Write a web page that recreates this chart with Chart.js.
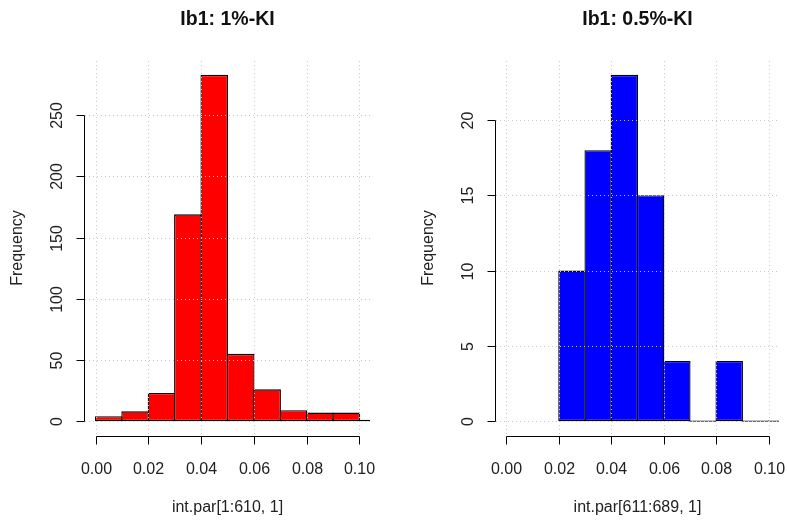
<!DOCTYPE html>
<html>
<head>
<meta charset="utf-8">
<script src="https://cdn.jsdelivr.net/npm/chart.js@4.4.0/dist/chart.umd.min.js"></script>
<style>
  html, body { margin: 0; padding: 0; background: #fff; }
  #wrap { position: relative; width: 787px; height: 522px; overflow: hidden; }
  .panel { position: absolute; top: 0; }
</style>
</head>
<body>
<div id="wrap">
  <div class="panel" style="left:0"><canvas id="left" width="400" height="522"></canvas></div>
  <div class="panel" style="left:400px"><canvas id="right" width="387" height="522"></canvas></div>
</div>
<script>
// histogram bin midpoints (bin width 0.01) and counts
const leftMids = [0.005, 0.015, 0.025, 0.035, 0.045, 0.055, 0.065, 0.075, 0.085, 0.095, 0.105];
const leftCounts = [4, 8, 23, 169, 283, 55, 26, 9, 7, 7, 1];
const rightMids = [0.025, 0.035, 0.045, 0.055, 0.065, 0.075, 0.085, 0.095, 0.105];
const rightCounts = [10, 18, 23, 15, 4, 0, 4, 0, 0];

const xTicks = [0, 0.02, 0.04, 0.06, 0.08, 0.10];
const leftYTicks = [0, 50, 100, 150, 200, 250];
const rightYTicks = [0, 5, 10, 15, 20];

const FONT = '"Liberation Sans", Arial, sans-serif';

// R-style axes, dotted grid (drawn over the bars like grid() after hist())
const rAxes = {
  id: 'rAxes',
  afterDatasetsDraw(chart, args, opts) {
    const { ctx, chartArea: a, scales: { x, y } } = chart;
    ctx.save();

    // grid
    ctx.strokeStyle = '#c8c8c8';
    ctx.lineWidth = 1;
    ctx.setLineDash([1, 3]);
    ctx.beginPath();
    x.ticks.forEach(t => {
      const px = Math.round(x.getPixelForValue(t.value)) + 0.5;
      ctx.moveTo(px, a.top);
      ctx.lineTo(px, a.bottom);
    });
    y.ticks.forEach(t => {
      const py = Math.round(y.getPixelForValue(t.value)) + 0.5;
      ctx.moveTo(a.left, py);
      ctx.lineTo(a.right, py);
    });
    ctx.stroke();
    ctx.setLineDash([]);

    // x axis
    const axY = Math.round(a.bottom) + 1.5;
    const xs = x.ticks.map(t => Math.round(x.getPixelForValue(t.value)) + 0.5);
    ctx.strokeStyle = '#000';
    ctx.beginPath();
    ctx.moveTo(xs[0], axY);
    ctx.lineTo(xs[xs.length - 1], axY);
    xs.forEach(px => { ctx.moveTo(px, axY); ctx.lineTo(px, axY + 8); });
    // y axis
    const axX = Math.round(a.left) - 0.5;
    const ys = y.ticks.map(t => Math.round(y.getPixelForValue(t.value)) + 0.5);
    ctx.moveTo(axX, ys[0]);
    ctx.lineTo(axX, ys[ys.length - 1]);
    ys.forEach(py => { ctx.moveTo(axX - 8, py); ctx.lineTo(axX, py); });
    ctx.stroke();

    // tick labels
    ctx.fillStyle = '#222';
    ctx.font = '16px ' + FONT;
    ctx.textAlign = 'center';
    ctx.textBaseline = 'middle';
    x.ticks.forEach((t, i) => ctx.fillText(t.value.toFixed(2), xs[i], a.bottom + 34.5));
    y.ticks.forEach((t, i) => {
      ctx.save();
      ctx.translate(axX - 27, ys[i]);
      ctx.rotate(-Math.PI / 2);
      ctx.fillText(String(t.value), 0, 0);
      ctx.restore();
    });

    // axis titles
    const cx = (a.left + a.right) / 2;
    const cy = (a.top + a.bottom) / 2;
    ctx.fillText(opts.xTitle, cx, a.bottom + 73);
    ctx.save();
    ctx.translate(a.left - 67, cy);
    ctx.rotate(-Math.PI / 2);
    ctx.fillText('Frequency', 0, 0);
    ctx.restore();

    // main title
    ctx.fillStyle = '#111';
    ctx.font = 'bold 19.5px ' + FONT;
    ctx.fillText(opts.title, cx, 20);
    ctx.restore();
  }
};

function makeHist(id, mids, counts, yTicks, color, title, xTitle, padding) {
  const yMax = Math.max(...counts);
  return new Chart(document.getElementById(id), {
    type: 'bar',
    data: {
      datasets: [{
        data: mids.map((m, i) => ({ x: m, y: counts[i] })),
        backgroundColor: color,
        borderColor: '#000',
        borderWidth: 1.3,
        borderSkipped: false,
        minBarLength: 1.3,
        categoryPercentage: 1,
        barPercentage: 1.049
      }]
    },
    options: {
      responsive: false,
      animation: false,
      layout: { padding: padding },
      plugins: {
        legend: { display: false },
        tooltip: { enabled: false },
        rAxes: { title: title, xTitle: xTitle }
      },
      scales: {
        x: {
          type: 'linear',
          offset: false,
          display: false,
          min: -0.004,
          max: 0.104,
          afterBuildTicks: axis => { axis.ticks = xTicks.map(v => ({ value: v })); }
        },
        y: {
          display: false,
          min: -0.04 * yMax,
          max: 1.04 * yMax,
          afterBuildTicks: axis => { axis.ticks = yTicks.map(v => ({ value: v })); }
        }
      }
    },
    plugins: [rAxes]
  });
}

makeHist('left', leftMids, leftCounts, leftYTicks, '#ff0000',
  'Ib1: 1%-KI', 'int.par[1:610, 1]', { left: 85, right: 30, top: 61, bottom: 87 });
makeHist('right', rightMids, rightCounts, rightYTicks, '#0000ff',
  'Ib1: 0.5%-KI', 'int.par[611:689, 1]', { left: 96, right: 8, top: 61, bottom: 87 });
</script>
</body>
</html>
